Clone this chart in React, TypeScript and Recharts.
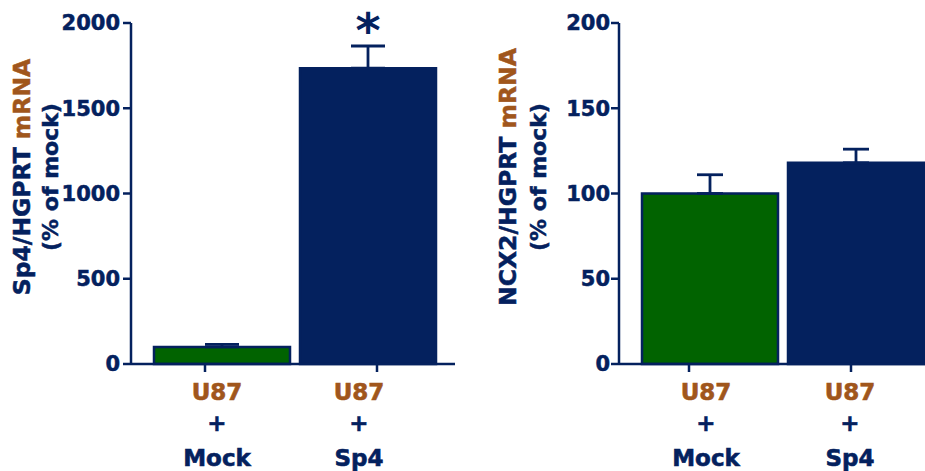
import { Bar, BarChart, Cell, ErrorBar, LabelList, XAxis, YAxis } from 'recharts'

// groups on the x axis (all U87 cells, transfected with mock or Sp4)
const categories = ['Mock', 'Sp4']
const cellLine = 'U87'

// Sp4/HGPRT mRNA, % of mock, with SEM (upper whisker only)
const sp4Mrna = [100, 1735]
const sp4Sem = [15, 130]
const sp4Marks = ['', '*']
const sp4Ticks = [0, 500, 1000, 1500, 2000]

// NCX2/HGPRT mRNA, % of mock
const ncx2Mrna = [100, 118]
const ncx2Sem = [11, 8]
const ncx2Marks = ['', '']
const ncx2Ticks = [0, 50, 100, 150, 200]

const NAVY = '#04215e'
const GREEN = '#016300'
const BROWN = '#a0561c'
const FONT = '"DejaVu Sans", sans-serif'
const barColors = [GREEN, NAVY]

const buildRows = (values: number[], sem: number[], marks: string[]) =>
  categories.map((group, i) => ({
    group,
    value: values[i],
    sem: [0, sem[i]],
    mark: marks[i],
  }))

function GroupTick(props: any) {
  const { x, y, index, payload, tickShift, labelShift } = props
  const tx = x + tickShift[index]
  const lx = x + labelShift[index]
  return (
    <g>
      <line x1={tx} y1={y} x2={tx} y2={y + 8} stroke={NAVY} strokeWidth={2.5} />
      <text
        x={lx}
        y={y}
        textAnchor="middle"
        fontFamily={FONT}
        fontWeight="bold"
        fontSize={23}
        strokeWidth={0.6}
      >
        <tspan x={lx} dy={35.5} fill={BROWN} stroke={BROWN}>
          {cellLine}
        </tspan>
        <tspan x={lx} dy={31.5} fill={NAVY} stroke={NAVY}>
          +
        </tspan>
        <tspan x={lx} dy={34.5} fill={NAVY} stroke={NAVY}>
          {payload.value}
        </tspan>
      </text>
    </g>
  )
}

function AxisTitle({ viewBox, gene, line1X, line2X }: any) {
  const x0 = viewBox?.x ?? 0
  const cy = 177
  return (
    <g fontFamily={FONT} fontWeight="bold" fill={NAVY} stroke={NAVY} strokeWidth={0.5}>
      <text
        transform={`translate(${x0 + line1X},${cy}) rotate(-90)`}
        textAnchor="middle"
        dominantBaseline="central"
        fontSize={23.5}
      >
        {gene}/HGPRT{' '}
        <tspan fill={BROWN} stroke={BROWN}>
          mRNA
        </tspan>
      </text>
      <text
        transform={`translate(${x0 + line2X},${cy}) rotate(-90)`}
        textAnchor="middle"
        dominantBaseline="central"
        fontSize={22}
      >
        (% of mock)
      </text>
    </g>
  )
}

function Mark(props: any) {
  const { x, y, width, value } = props
  if (!value) return null
  return (
    <text
      x={x + width / 2}
      y={y - 21}
      textAnchor="middle"
      fontFamily={FONT}
      fontWeight="bold"
      fontSize={48}
      fill={NAVY}
    >
      {value}
    </text>
  )
}

function Panel(props: any) {
  const {
    data, ticks, gene, width, marginRight, axisWidth, padding,
    capWidth, tickShift, labelShift, titleX, tickMargin,
  } = props
  return (
    <BarChart
      width={width}
      height={471}
      data={data}
      margin={{ top: 23, right: marginRight, bottom: 7, left: 0 }}
      barCategoryGap={5}
    >
      <XAxis
        dataKey="group"
        height={100}
        padding={padding}
        axisLine={{ stroke: NAVY, strokeWidth: 2.5 }}
        tickLine={false}
        tickSize={0}
        tickMargin={0}
        interval={0}
        tick={<GroupTick tickShift={tickShift} labelShift={labelShift} />}
      />
      <YAxis
        width={axisWidth}
        domain={[0, ticks[ticks.length - 1]]}
        ticks={ticks}
        interval={0}
        tickSize={8}
        tickMargin={tickMargin}
        axisLine={{ stroke: NAVY, strokeWidth: 2.5 }}
        tickLine={{ stroke: NAVY, strokeWidth: 2.5 }}
        tick={{
          fill: NAVY,
          stroke: NAVY,
          strokeWidth: 0.5,
          fontSize: 21,
          fontWeight: 'bold',
          fontFamily: FONT,
        }}
        label={(p: any) => <AxisTitle {...p} gene={gene} line1X={titleX[0]} line2X={titleX[1]} />}
      />
      <Bar dataKey="value" stroke={NAVY} strokeWidth={2.5} isAnimationActive={false}>
        {data.map((_: any, i: number) => (
          <Cell key={i} fill={barColors[i]} />
        ))}
        <ErrorBar
          dataKey="sem"
          width={capWidth}
          stroke={NAVY}
          strokeWidth={2.8}
          isAnimationActive={false}
        />
        <LabelList dataKey="mark" content={<Mark />} />
      </Bar>
    </BarChart>
  )
}

export default function App() {
  return (
    <div
      style={{
        position: 'absolute',
        left: 0,
        top: 0,
        width: 925,
        height: 471,
        overflow: 'hidden',
        background: '#fff',
      }}
    >
      <div style={{ position: 'absolute', left: 0, top: 0 }}>
        <Panel
          data={buildRows(sp4Mrna, sp4Sem, sp4Marks)}
          ticks={sp4Ticks}
          gene="Sp4"
          width={465}
          marginRight={10}
          axisWidth={131}
          padding={{ left: 18, right: 14 }}
          capWidth={17}
          tickShift={[-17, 9]}
          labelShift={[-5, -9]}
          titleX={[22, 50]}
          tickMargin={3}
        />
      </div>
      <div style={{ position: 'absolute', left: 470, top: 0 }}>
        <Panel
          data={buildRows(ncx2Mrna, ncx2Sem, ncx2Marks)}
          ticks={ncx2Ticks}
          gene="NCX2"
          width={470}
          marginRight={11}
          axisWidth={149}
          padding={{ left: 18, right: 0 }}
          capWidth={13}
          tickShift={[-21, -5]}
          labelShift={[-4, -6]}
          titleX={[38, 68]}
          tickMargin={1}
        />
      </div>
    </div>
  )
}
